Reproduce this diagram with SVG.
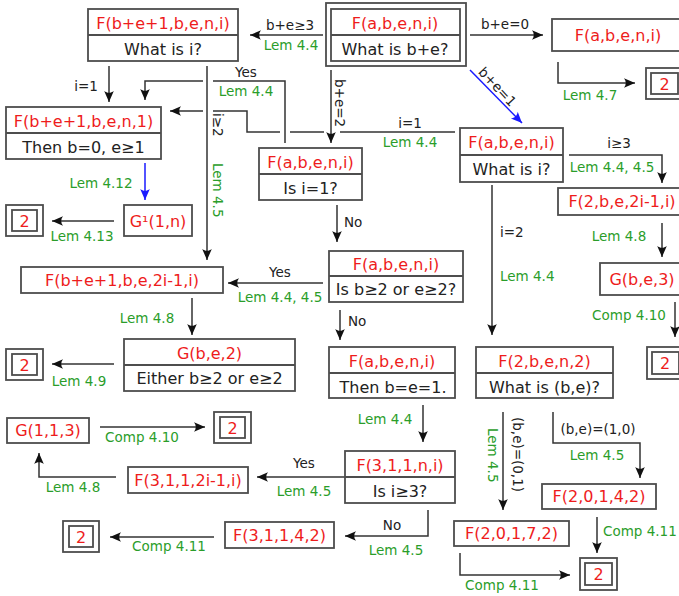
<svg xmlns="http://www.w3.org/2000/svg" width="679" height="596" viewBox="0 0 679 596">
<defs>
<marker id="a" viewBox="-12 -6 13 12" refX="0" refY="0" markerWidth="13" markerHeight="12" markerUnits="userSpaceOnUse" orient="auto"><path d="M0,0 L-11,-4.8 C-8.6,-1.8 -8.6,1.8 -11,4.8 Z" fill="#111"/></marker>
<marker id="b" viewBox="-12 -6 13 12" refX="0" refY="0" markerWidth="13" markerHeight="12" markerUnits="userSpaceOnUse" orient="auto"><path d="M0,0 L-11,-4.8 C-8.6,-1.8 -8.6,1.8 -11,4.8 Z" fill="#1a1aff"/></marker>
<style>
.bx{fill:#fff;stroke:#4d4d4d;stroke-width:1.8}
.dv{stroke:#4d4d4d;stroke-width:1.8;fill:none}
text{font-family:"DejaVu Sans","Liberation Sans",sans-serif}
.r{fill:#ee1c1c;font-size:16px;text-anchor:middle}
.k{fill:#222;font-size:16px;text-anchor:middle}
.g{fill:#2a9d2a;font-size:13.5px;text-anchor:middle}
.l{fill:#222;font-size:13.5px;text-anchor:middle}
.s{text-anchor:start}
.c{stroke:#333;stroke-width:1.5;fill:none;marker-end:url(#a)}
.cb{stroke:#1a1aff;stroke-width:1.5;fill:none;marker-end:url(#b)}
</style>
</defs>
<g id="connectors">
<path class="c" d="M323,35 H250"/>
<path class="c" d="M470,35 H543"/>
<path class="c" d="M558,62 V83 H635"/>
<path class="cb" d="M470,70 L522,123"/>
<path class="c" d="M331,70 V143"/>
<path class="c" d="M455,132 H340 M324,132 H290 M280,132 H247 V111 H213 M203,111 H170"/>
<path class="c" d="M285,143 V81 H213 M203,81 H145 V100"/>
<path class="c" d="M109,66 V102"/>
<path class="c" d="M207,66 V260"/>
<path class="cb" d="M145,163 V200"/>
<path class="c" d="M114,221 H52"/>
<path class="c" d="M337,205 V242"/>
<path class="c" d="M323,283 H228"/>
<path class="c" d="M192,298 V335"/>
<path class="c" d="M114,364 H52"/>
<path class="c" d="M340,310 V340"/>
<path class="c" d="M569,155 H662 V183"/>
<path class="c" d="M662,223 V257"/>
<path class="c" d="M675,302 V337"/>
<path class="c" d="M492,185 V335"/>
<path class="c" d="M423,405 V442"/>
<path class="c" d="M503,412 V510"/>
<path class="c" d="M553,412 V443 H640 V478"/>
<path class="c" d="M597,517 V553"/>
<path class="c" d="M460,553 V575 H570"/>
<path class="c" d="M345,477 H257"/>
<path class="c" d="M428,510 V536 H345"/>
<path class="c" d="M116,477 H39 V453"/>
<path class="c" d="M100,427 H205"/>
<path class="c" d="M214,537 H110"/>
<text class="l" x="290" y="30">b+e≥3</text>
<text class="g" x="291" y="50">Lem 4.4</text>
<text class="l" x="505" y="29">b+e=0</text>
<text class="g" x="590" y="100">Lem 4.7</text>
<text class="l" transform="translate(494,90) rotate(47)" x="0" y="0">b+e=1</text>
<text class="l s" transform="translate(335,79) rotate(90)">b+e=2</text>
<text class="l" x="410" y="128">i=1</text>
<text class="g" x="410" y="147">Lem 4.4</text>
<text class="l" x="246" y="77">Yes</text>
<text class="g" x="246" y="96">Lem 4.4</text>
<text class="l" x="86" y="91">i=1</text>
<text class="l s" transform="translate(213,113) rotate(90)">i≥2</text>
<text class="g s" transform="translate(213,163) rotate(90)">Lem 4.5</text>
<text class="g" x="101" y="188">Lem 4.12</text>
<text class="g" x="82" y="241">Lem 4.13</text>
<text class="l s" x="344" y="227">No</text>
<text class="l" x="280" y="277">Yes</text>
<text class="g" x="280" y="302">Lem 4.4, 4.5</text>
<text class="g" x="147" y="323">Lem 4.8</text>
<text class="g" x="79" y="386">Lem 4.9</text>
<text class="l s" x="348" y="326">No</text>
<text class="l" x="619" y="148">i≥3</text>
<text class="g" x="612" y="172">Lem 4.4, 4.5</text>
<text class="g" x="619" y="241">Lem 4.8</text>
<text class="g" x="629" y="320">Comp 4.10</text>
<text class="l s" x="500" y="237">i=2</text>
<text class="g s" x="500" y="281">Lem 4.4</text>
<text class="g" x="385" y="424">Lem 4.4</text>
<text class="l s" transform="translate(513,417) rotate(90)">(b,e)=(0,1)</text>
<text class="g s" transform="translate(488,428) rotate(90)">Lem 4.5</text>
<text class="l" x="598" y="434">(b,e)=(1,0)</text>
<text class="g" x="597" y="460">Lem 4.5</text>
<text class="g s" x="603" y="536">Comp 4.11</text>
<text class="g" x="502" y="590">Comp 4.11</text>
<text class="l" x="304" y="468">Yes</text>
<text class="g" x="304" y="496">Lem 4.5</text>
<text class="l" x="392" y="530">No</text>
<text class="g" x="396" y="555">Lem 4.5</text>
<text class="g" x="73" y="492">Lem 4.8</text>
<text class="g" x="142" y="442">Comp 4.10</text>
<text class="g" x="169" y="551">Comp 4.11</text>
</g>
<g id="n_top">
<rect class="bx" x="326" y="3" width="140" height="63"/>
<rect class="bx" x="331" y="9" width="129" height="52"/>
<line class="dv" x1="331" y1="35" x2="460" y2="35"/>
<text class="r" x="395" y="29">F(a,b,e,n,i)</text>
<text class="k" x="395" y="55">What is b+e?</text>
</g>
<g id="n_tl">
<rect class="bx" x="88" y="9" width="150" height="52"/>
<line class="dv" x1="88" y1="35" x2="238" y2="35"/>
<text class="r" x="163" y="29">F(b+e+1,b,e,n,i)</text>
<text class="k" x="163" y="55">What is i?</text>
</g>
<g id="n_tr">
<rect class="bx" x="552" y="19" width="132" height="32"/>
<text class="r" x="618" y="41">F(a,b,e,n,i)</text>
</g>
<g id="two_a">
<rect class="bx" x="646" y="68" width="37" height="31"/>
<rect class="bx" x="651" y="73" width="27" height="21"/>
<text class="r" x="664.5" y="90">2</text>
</g>
<g id="n_b0">
<rect class="bx" x="6" y="107" width="155" height="52"/>
<line class="dv" x1="6" y1="133" x2="161" y2="133"/>
<text class="r" x="83.5" y="127">F(b+e+1,b,e,n,1)</text>
<text class="k" x="83.5" y="153">Then b=0, e≥1</text>
</g>
<g id="n_isi1">
<rect class="bx" x="259" y="148" width="103" height="52"/>
<line class="dv" x1="259" y1="174" x2="362" y2="174"/>
<text class="r" x="310.5" y="168">F(a,b,e,n,i)</text>
<text class="k" x="310.5" y="194">Is i=1?</text>
</g>
<g id="n_whati">
<rect class="bx" x="460" y="128" width="103" height="54"/>
<line class="dv" x1="460" y1="155" x2="563" y2="155"/>
<text class="r" x="511.5" y="148">F(a,b,e,n,i)</text>
<text class="k" x="511.5" y="175">What is i?</text>
</g>
<g id="n_g1">
<rect class="bx" x="124" y="205" width="68" height="31"/>
<text class="r" x="158" y="227">G¹(1,n)</text>
</g>
<g id="two_b">
<rect class="bx" x="6" y="205" width="37" height="31"/>
<rect class="bx" x="12" y="210" width="25" height="21"/>
<text class="r" x="24.5" y="227">2</text>
</g>
<g id="n_f2i">
<rect class="bx" x="21" y="267" width="202" height="26"/>
<text class="r" x="122" y="286">F(b+e+1,b,e,2i-1,i)</text>
</g>
<g id="n_isb">
<rect class="bx" x="329" y="251" width="134" height="51"/>
<line class="dv" x1="329" y1="276" x2="463" y2="276"/>
<text class="r" x="396" y="270">F(a,b,e,n,i)</text>
<text class="k" x="396" y="295">Is b≥2 or e≥2?</text>
</g>
<g id="n_gbe2">
<rect class="bx" x="124" y="339" width="171" height="52"/>
<line class="dv" x1="124" y1="365" x2="295" y2="365"/>
<text class="r" x="209.5" y="359">G(b,e,2)</text>
<text class="k" x="209.5" y="384">Either b≥2 or e≥2</text>
</g>
<g id="two_c">
<rect class="bx" x="6" y="349" width="37" height="31"/>
<rect class="bx" x="12" y="354" width="25" height="21"/>
<text class="r" x="24.5" y="371">2</text>
</g>
<g id="n_then">
<rect class="bx" x="329" y="347" width="126" height="51"/>
<line class="dv" x1="329" y1="373" x2="455" y2="373"/>
<text class="r" x="392" y="367">F(a,b,e,n,i)</text>
<text class="k" x="393" y="393">Then b=e=1.</text>
</g>
<g id="n_f2bn2">
<rect class="bx" x="476" y="347" width="137" height="51"/>
<line class="dv" x1="476" y1="373" x2="613" y2="373"/>
<text class="r" x="544.5" y="367">F(2,b,e,n,2)</text>
<text class="k" x="544.5" y="393">What is (b,e)?</text>
</g>
<g id="n_f2be">
<rect class="bx" x="558" y="188" width="128" height="27"/>
<text class="r" x="622" y="207">F(2,b,e,2i-1,i)</text>
</g>
<g id="n_gbe3">
<rect class="bx" x="600" y="263" width="84" height="32"/>
<text class="r" x="642" y="285">G(b,e,3)</text>
</g>
<g id="two_d">
<rect class="bx" x="647" y="347" width="37" height="32"/>
<rect class="bx" x="652" y="352" width="27" height="22"/>
<text class="r" x="665" y="369">2</text>
</g>
<g id="n_g113">
<rect class="bx" x="7" y="418" width="82" height="25"/>
<text class="r" x="48" y="436">G(1,1,3)</text>
</g>
<g id="two_e">
<rect class="bx" x="214" y="412" width="37" height="31"/>
<rect class="bx" x="220" y="417" width="25" height="21"/>
<text class="r" x="232.5" y="434">2</text>
</g>
<g id="n_f3112">
<rect class="bx" x="128" y="467" width="120" height="26"/>
<text class="r" x="188" y="486">F(3,1,1,2i-1,i)</text>
</g>
<g id="n_f311n">
<rect class="bx" x="345" y="451" width="110" height="52"/>
<line class="dv" x1="345" y1="477" x2="455" y2="477"/>
<text class="r" x="400" y="471">F(3,1,1,n,i)</text>
<text class="k" x="400" y="497">Is i≥3?</text>
</g>
<g id="n_f3114">
<rect class="bx" x="225" y="522" width="109" height="26"/>
<text class="r" x="279.5" y="541">F(3,1,1,4,2)</text>
</g>
<g id="two_f">
<rect class="bx" x="63" y="521" width="36" height="31"/>
<rect class="bx" x="69" y="526" width="24" height="21"/>
<text class="r" x="81" y="543">2</text>
</g>
<g id="n_f2017">
<rect class="bx" x="454" y="521" width="115" height="25"/>
<text class="r" x="511.5" y="539">F(2,0,1,7,2)</text>
</g>
<g id="n_f2014">
<rect class="bx" x="542" y="484" width="114" height="25"/>
<text class="r" x="599" y="502">F(2,0,1,4,2)</text>
</g>
<g id="two_g">
<rect class="bx" x="580" y="558" width="37" height="32"/>
<rect class="bx" x="585" y="563" width="27" height="22"/>
<text class="r" x="598.5" y="580">2</text>
</g>
</svg>
